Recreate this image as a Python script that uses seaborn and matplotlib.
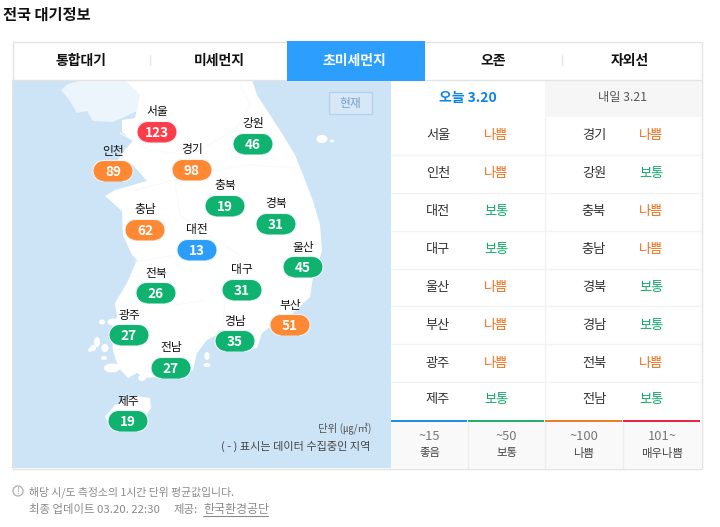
import numpy as np
import pandas as pd
import seaborn as sns
import matplotlib.pyplot as plt
from matplotlib.patches import Rectangle, Polygon, Ellipse, Circle
from matplotlib.path import Path

# badge values on the map
regions = ["서울", "강원", "인천", "경기", "충북", "경북", "충남", "대전",
           "울산", "전북", "대구", "부산", "광주", "경남", "전남", "제주"]
pm25 = [123, 46, 89, 98, 19, 31, 62, 13, 45, 26, 31, 51, 27, 35, 27, 19]
map_x = [157, 253, 113, 192, 225, 276, 145, 197, 303, 156, 242, 290, 129, 235, 171, 128]
map_y = [132, 144, 171, 170, 206, 224, 230, 250, 267, 293, 290, 325, 335, 341, 368, 421]

# forecast table
left_names = ["서울", "인천", "대전", "대구", "울산", "부산", "광주", "제주"]
left_grades = ["나쁨", "나쁨", "보통", "보통", "나쁨", "나쁨", "나쁨", "보통"]
right_names = ["경기", "강원", "충북", "충남", "경북", "경남", "전북", "전남"]
right_grades = ["나쁨", "보통", "나쁨", "나쁨", "보통", "보통", "나쁨", "보통"]

# legend strip and tabs
legend_ranges = ["~15", "~50", "~100", "101~"]
legend_names = ["좋음", "보통", "나쁨", "매우나쁨"]
legend_colors = ["#0a84e0", "#0aa860", "#ee7010", "#e01030"]
tabs = ["통합대기", "미세먼지", "초미세먼지", "오존", "자외선"]
tab_x = [81, 219, 354, 493, 630]


def grade_of(v):
    if v <= 15:
        return "좋음"
    if v <= 50:
        return "보통"
    if v <= 100:
        return "나쁨"
    return "매우나쁨"


df = pd.DataFrame({"region": regions, "pm25": pm25, "x": map_x, "y": map_y})
df["grade"] = df["pm25"].map(grade_of)

sns.set_theme(style="white")
plt.rcParams["font.family"] = ["Noto Sans CJK KR", "DejaVu Sans"]

fig = plt.figure(figsize=(7.2, 5.27), dpi=100)
ax = fig.add_axes([0, 0, 1, 1])

SEA = "#cde4f7"
LINE = "#e3e3e3"
DARK = "#333333"

# map background and land
ax.add_patch(Rectangle((12, 80), 379, 388, fc=SEA, ec="none", zorder=1))
north = [(61, 90), (68, 84), (83, 80), (175, 80), (175, 95), (150, 105), (122, 118),
         (113, 122), (93, 121), (87, 111), (77, 113), (70, 101)]
ax.add_patch(Polygon(north, fc="#edf5fc", ec="none", zorder=2))
land = [(125, 80), (252, 80), (257, 95), (270, 115), (283, 135), (295, 155), (303, 175),
        (313, 201), (320, 225), (322, 251), (313, 277), (310, 297), (293, 313), (270, 327),
        (262, 333), (257, 348), (243, 350), (228, 337), (220, 333), (207, 340), (197, 353),
        (193, 370), (180, 378), (157, 377), (145, 378), (137, 373), (128, 378), (118, 367),
        (113, 350), (112, 327), (117, 317), (115, 303), (127, 283), (137, 260), (132, 255),
        (123, 235), (122, 211), (105, 196), (115, 190), (147, 181), (133, 165), (118, 160),
        (125, 150), (133, 141), (122, 132), (122, 120), (135, 118), (140, 95)]
ax.add_patch(Polygon(land, fc="white", ec="none", zorder=3))
jeju = [(105, 417), (115, 405), (135, 396), (150, 398), (151, 408), (140, 425), (112, 430)]
ax.add_patch(Polygon(jeju, fc="white", ec="none", zorder=3))
islands = [(322, 139, 11, 8), (332, 141, 4, 3), (102, 322, 6, 5), (113, 322, 11, 7),
           (97, 342, 6, 10), (93, 348, 6, 6), (105, 348, 7, 8), (104, 358, 6, 4),
           (112, 368, 16, 9), (142, 378, 8, 6), (207, 356, 5, 8), (207, 365, 7, 4),
           (257, 335, 6, 10), (248, 338, 6, 7), (90, 350, 4, 4)]
for ix, iy, iw, ih in islands:
    ax.add_patch(Ellipse((ix, iy), iw, ih, fc="white", ec="none", zorder=3))

# faint province borders
borders = [[(120, 133), (150, 150), (190, 155), (235, 130), (250, 105), (240, 85)],
           [(135, 190), (175, 180), (215, 170), (250, 165), (300, 168)],
           [(175, 180), (180, 215), (215, 240), (240, 255), (225, 300), (222, 333)],
           [(135, 262), (175, 255), (215, 240)],
           [(127, 300), (175, 305), (205, 300)]]
for b in borders:
    bx, by = zip(*b)
    ax.plot(bx, by, color="#f7f9fb", lw=0.8, zorder=4)

# pill shaped marker for the badges
t = np.linspace(-np.pi / 2, np.pi / 2, 20)
px = np.r_[9.5 + 10.5 * np.cos(t), -9.5 - 10.5 * np.cos(t)]
py = np.r_[10.5 * np.sin(t), -10.5 * np.sin(t)]
pill = Path(np.c_[px, py], closed=False)

palette = {"좋음": "#2b9dfb", "보통": "#10b26f", "나쁨": "#ff8833", "매우나쁨": "#ff3d4a"}
sns.scatterplot(data=df, x="x", y="y", hue="grade", palette=palette, marker=pill, s=829,
                linewidth=0.8, edgecolor="#eaf3f8", legend=False, ax=ax, zorder=5)

for _, row in df.iterrows():
    ax.text(row["x"], row["y"] + 1, str(row["pm25"]), color="white", fontsize=9.8, fontweight="bold",
            ha="center", va="center", zorder=6)
    ax.text(row["x"], row["y"] - 20, row["region"], color="#111111", fontsize=8.5,
            ha="center", va="center", zorder=6)

# "now" button
ax.add_patch(Rectangle((328.5, 91.5), 43, 22, fc="#d6e8f8", ec="#b4d3ea", lw=1, zorder=4))
ax.text(350, 103, "현재", color="#7c9fc0", fontsize=8.5, ha="center", va="center", zorder=6)

ax.text(371, 428, "단위 (㎍/㎥)", color="#555555", fontsize=7.5, ha="right", va="center", zorder=6)
ax.text(370, 446, "( - ) 표시는 데이터 수집중인 지역", color="#444444", fontsize=8, ha="right", va="center", zorder=6)

# title and tabs
ax.text(3, 15, "전국 대기정보", color="#111111", fontsize=11, fontweight="bold", ha="left", va="center")
ax.add_patch(Rectangle((12.5, 41.5), 689, 427, fc="none", ec=LINE, lw=1, zorder=7))
ax.plot([12, 701], [79.5, 79.5], color=LINE, lw=1, zorder=7)
ax.add_patch(Rectangle((287, 41), 138, 39.5, fc="#2b9efe", ec="none", zorder=8))
for sx in [150, 562]:
    ax.plot([sx, sx], [55, 65], color="#e5e5e5", lw=1, zorder=7)
for label, tx in zip(tabs, tab_x):
    active = label == "초미세먼지"
    ax.text(tx, 60.5, label, color="white" if active else "#111111", fontsize=10, fontweight="bold",
            ha="center", va="center", zorder=9)

# forecast header
ax.add_patch(Rectangle((545, 80), 156, 37, fc="#f6f6f6", ec="none", zorder=2))
ax.text(468, 98, "오늘 3.20", color="#0a84e8", fontsize=10, fontweight="bold", ha="center", va="center")
ax.text(622, 98, "내일 3.21", color="#555555", fontsize=8.8, ha="center", va="center")

# forecast rows
grade_colors = {"나쁨": "#f0701c", "보통": "#10a868"}
for i in range(8):
    ry = 135 + 38 * i - (1 if i == 7 else 0)
    ax.text(438, ry, left_names[i], color=DARK, fontsize=9.5, ha="center", va="center")
    ax.text(496, ry, left_grades[i], color=grade_colors[left_grades[i]], fontsize=9.5, ha="center", va="center")
    ax.text(594, ry, right_names[i], color=DARK, fontsize=9.5, ha="center", va="center")
    ax.text(651, ry, right_grades[i], color=grade_colors[right_grades[i]], fontsize=9.5, ha="center", va="center")
    if i < 7:
        sep = 154.5 + 38 * i - (0.5 if i > 3 else 0)
        ax.plot([391, 701], [sep, sep], color="#f3f3f3", lw=1, zorder=2)
ax.plot([545, 545], [117, 421], color="#f3f3f3", lw=1, zorder=2)

# legend strip
ax.add_patch(Rectangle((391, 422), 310, 46, fc="#f9f9f9", ec="none", zorder=2))
seg_x = [391, 468, 545, 623, 701]
for i in range(4):
    cx = (seg_x[i] + seg_x[i + 1]) / 2
    ax.plot([seg_x[i], seg_x[i + 1] - 1], [421, 421], color=legend_colors[i], lw=1.3, zorder=3,
            solid_capstyle="butt")
    if i > 0:
        ax.plot([seg_x[i] - 0.5, seg_x[i] - 0.5], [422, 468], color="#eeeeee", lw=1, zorder=3)
    ax.text(cx, 436, legend_ranges[i], color="#777777", fontsize=9.3, ha="center", va="center", zorder=4)
    ax.text(cx, 453, legend_names[i], color="#444444", fontsize=8.2, ha="center", va="center", zorder=4)

# footer
GREY = "#8a8a8a"
ax.add_patch(Circle((18, 491), 5, fc="none", ec="#b5b5b5", lw=1))
ax.text(18, 491.5, "!", color="#999999", fontsize=6, ha="center", va="center")
ax.text(29, 492, "해당 시/도 측정소의 1시간 단위 평균값입니다.", color=GREY, fontsize=7.8, ha="left", va="center")
ax.text(29, 510, "최종 업데이트 03.20. 22:30", color=GREY, fontsize=8.2, ha="left", va="center")
ax.text(174, 510, "제공:", color=GREY, fontsize=8.2, ha="left", va="center")
ax.text(203, 510, "한국환경공단", color=GREY, fontsize=8.6, ha="left", va="center")
ax.plot([203, 268], [516, 516], color=GREY, lw=0.8)

ax.set_xlim(0, 720)
ax.set_ylim(527, 0)
ax.set_axis_off()

fig.savefig("out.png", dpi=100)
